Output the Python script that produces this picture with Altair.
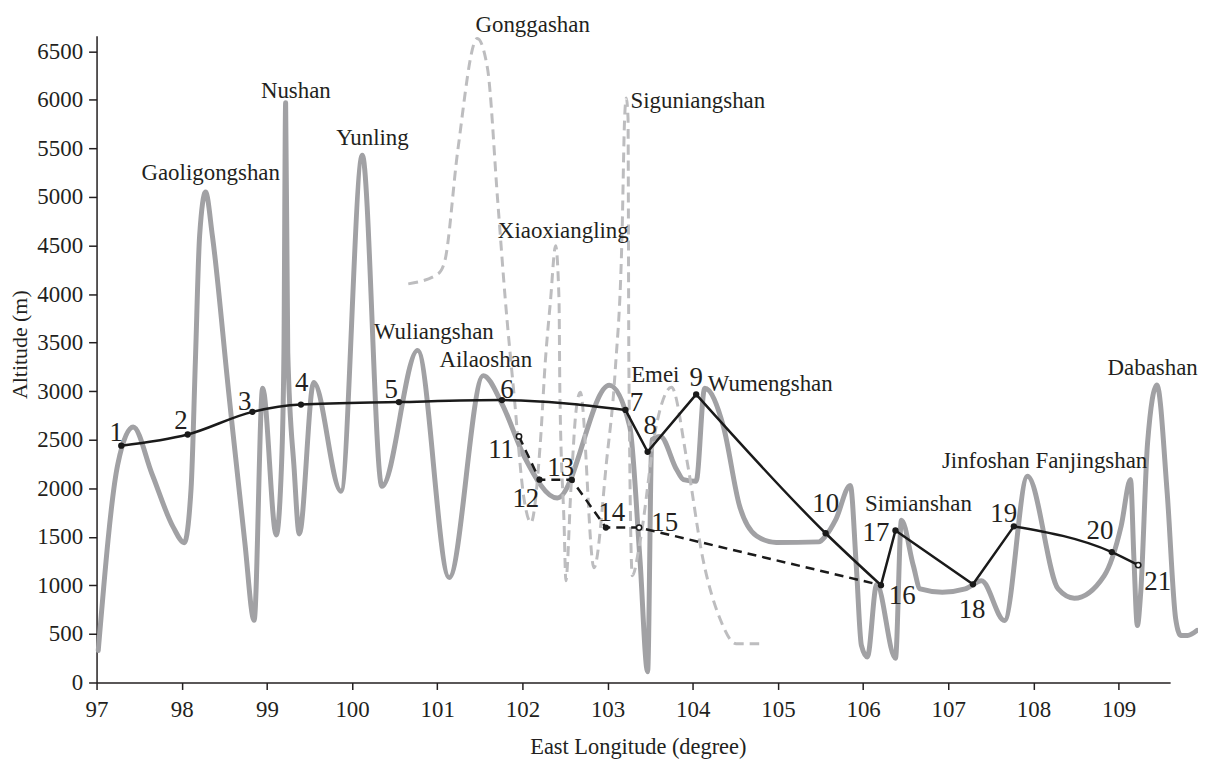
import altair as alt
import pandas as pd

# ---- main profile (solid gray) ----
prof_lon = [97.02, 97.25, 97.43, 97.65, 97.90, 98.03, 98.11, 98.16, 98.21, 98.28, 98.36, 98.55, 98.74, 98.85,
            98.95, 99.11, 99.17, 99.20, 99.22, 99.245, 99.32, 99.38, 99.55, 99.87, 100.12, 100.35, 100.77,
            101.14, 101.54, 101.76, 102.02, 102.41, 103.02, 103.26, 103.38, 103.47, 103.52, 103.62, 103.81,
            103.89, 104.04, 104.14, 104.36, 104.55, 104.75, 104.98, 105.48, 105.56, 105.68, 105.85, 105.92,
            105.98, 106.05, 106.16, 106.38, 106.45, 106.59, 106.67, 106.93, 107.20, 107.39, 107.66, 107.93,
            108.29, 108.48, 108.83, 109.03, 109.14, 109.18, 109.22, 109.26, 109.34, 109.45, 109.57, 109.67,
            109.73, 109.81, 109.92]
prof_alt = [330, 2250, 2630, 2150, 1600, 1440, 2000, 3300, 4600, 5050, 4600, 3000, 1450, 640,
            3030, 1520, 2200, 3400, 5970, 3400, 2200, 1530, 3090, 1970, 5430, 2020, 3420,
            1080, 3160, 2870, 2330, 1900, 3060, 2636, 1270, 110, 2500, 2534, 2193,
            2090, 2073, 3030, 2636, 1817, 1509, 1442, 1448, 1509, 1680, 2030, 1202,
            382, 263, 1010, 250, 1670, 1202, 963, 929, 963, 1048, 638, 2124,
            963, 868, 1099, 1612, 2090, 1270, 587, 932, 2469, 3064, 1957, 656,
            485, 485, 536]

# ---- Sichuan branch profile (dashed light gray) ----
sich_lon = [100.66, 101.01, 101.09, 101.24, 101.47, 101.59, 101.71, 101.80, 101.90, 102.02, 102.10, 102.21,
            102.27, 102.33, 102.39, 102.43, 102.44, 102.49, 102.51, 102.57, 102.63, 102.68, 102.84, 102.99,
            103.09, 103.17, 103.20, 103.22, 103.24, 103.25, 103.29, 103.38, 103.57, 103.75, 103.93, 104.12,
            104.32, 104.51, 104.78]
sich_alt = [4105, 4208, 4344, 5471, 6632, 6325, 4959, 3934, 2982, 1885, 1646, 2465,
            3320, 3934, 4498, 3934, 2982, 1612, 1048, 2000, 2800, 2990, 1182, 2295,
            3217, 4621, 5813, 6018, 5813, 3251, 1099, 1445, 2636, 3040, 2295, 1270,
            656, 400, 400]

# ---- numbered sites ----
site_id = [str(i) for i in range(1, 22)]
site_lon = [97.29, 98.07, 98.83, 99.40, 100.55, 101.76, 103.21, 103.47, 104.04, 105.56,
            101.96, 102.20, 102.58, 102.98, 103.37, 106.21, 106.38, 107.29, 107.77, 108.92, 109.23]
site_alt = [2439, 2554, 2787, 2862, 2888, 2908, 2807, 2375, 2967, 1537,
            2534, 2089, 2087, 1595, 1595, 1002, 1565, 1011, 1608, 1343, 1209]
open_sites = ["11", "15", "21"]

# label anchors of the site numbers (data units)
num_lon = [97.23, 97.99, 98.74, 99.41, 100.46, 101.82, 103.34, 103.50, 104.04, 105.56,
           101.75, 102.04, 102.45, 103.05, 103.67, 106.46, 106.15, 107.28, 107.65, 108.78, 109.46]
num_alt = [2569, 2688, 2892, 3081, 3012, 3012, 2876, 2636, 3132, 1834,
           2398, 1885, 2210, 1749, 1647, 894, 1544, 741, 1732, 1560, 1032]

# mountain names
names = ["Gaoligongshan", "Nushan", "Yunling", "Gonggashan", "Siguniangshan", "Xiaoxiangling",
         "Wuliangshan", "Ailaoshan", "Emei", "Wumengshan", "Simianshan", "Jinfoshan",
         "Fanjingshan", "Dabashan"]
name_lon = [98.34, 99.34, 100.24, 102.12, 104.06, 102.48, 100.96, 101.57, 103.56, 104.91,
            106.65, 107.44, 108.68, 109.40]
name_alt = [5249, 6093, 5608, 6770, 5984, 4652, 3610, 3320, 3166, 3074,
            1834, 2278, 2278, 3235]

# black route segments (site ids)
solid_curve_a = ["1", "2", "3", "4", "5", "6", "7"]
solid_lin_b = ["7", "8", "9"]
solid_curve_c = ["9", "10", "16"]
solid_lin_d = ["16", "17", "18", "19"]
solid_curve_e = ["19", "20", "21"]
dashed_route = ["11", "12", "13", "14", "15", "16"]

# ---------------------------------------------------------------
FONT = "Liberation Serif"
INK = "#231f20"

sites = pd.DataFrame({"id": site_id, "lon": site_lon, "alt": site_alt})
site_map = sites.set_index("id")


def route(ids):
    d = site_map.loc[ids].reset_index()
    d["i"] = range(len(d))
    return d


prof = pd.DataFrame({"lon": prof_lon, "alt": prof_alt})
sich = pd.DataFrame({"lon": sich_lon, "alt": sich_alt})
nums = pd.DataFrame({"lon": num_lon, "alt": num_alt, "label": site_id})
nms = pd.DataFrame({"lon": name_lon, "alt": name_alt, "label": names})
prof["i"] = range(len(prof))
sich["i"] = range(len(sich))

xscale = alt.Scale(domain=[97, 109.605], nice=False, zero=False)
yscale = alt.Scale(domain=[0, 6660], nice=False, zero=True)

xaxis = alt.Axis(values=list(range(97, 110)), title="East Longitude (degree)", grid=False,
                 tickSize=7, labelPadding=9, labelFont=FONT, labelFontSize=23, labelColor=INK,
                 titleFont=FONT, titleFontSize=22.5, titleFontWeight="normal", titleColor=INK,
                 domainColor=INK, tickColor=INK, domainWidth=1.5, tickWidth=1.5,
                 titleX=544, titleY=71, titleBaseline="alphabetic", titleAlign="center",
                 labelFlush=False, labelOverlap=False, format="d")
yaxis = alt.Axis(values=list(range(0, 7000, 500)), title="Altitude (m)", grid=False,
                 tickSize=8, labelPadding=6, labelFont=FONT, labelFontSize=23, labelColor=INK,
                 titleFont=FONT, titleFontSize=22, titleFontWeight="normal", titleColor=INK,
                 domainColor=INK, tickColor=INK, domainWidth=1.5, tickWidth=1.5,
                 titleX=-77, titleY=310, titleAngle=270, titleAlign="center", titleBaseline="middle",
                 labelOverlap=False, format="d")

X = alt.X("lon:Q", scale=xscale, axis=xaxis)
Y = alt.Y("alt:Q", scale=yscale, axis=yaxis)
ORD = alt.Order("i:Q")

gray = alt.Chart(prof).mark_line(color="#a1a1a4", strokeWidth=5, interpolate="monotone",
                                 strokeCap="round", strokeJoin="round").encode(x=X, y=Y, order=ORD)
dash = alt.Chart(sich).mark_line(color="#bdbdbf", strokeWidth=3, interpolate="monotone",
                                 strokeDash=[10, 6]).encode(x=X, y=Y, order=ORD)

layers = [gray, dash]
for ids, interp in [(solid_curve_a, "monotone"), (solid_lin_b, "linear"), (solid_curve_c, "monotone"),
                    (solid_lin_d, "linear"), (solid_curve_e, "monotone")]:
    layers.append(alt.Chart(route(ids)).mark_line(color="#1a1a1a", strokeWidth=2.5,
                                                  interpolate=interp).encode(x=X, y=Y, order=ORD))
layers.append(alt.Chart(route(dashed_route)).mark_line(color="#1a1a1a", strokeWidth=2.5,
                                                       strokeDash=[9, 6]).encode(x=X, y=Y, order=ORD))

filled = sites[~sites["id"].isin(open_sites)]
opened = sites[sites["id"].isin(open_sites)]
layers.append(alt.Chart(filled).mark_circle(size=40, color="#1a1a1a", opacity=1).encode(x=X, y=Y))
layers.append(alt.Chart(opened).mark_circle(size=28, color="white", opacity=1, stroke="#1a1a1a",
                                            strokeWidth=1.6).encode(x=X, y=Y))

layers.append(alt.Chart(nums).mark_text(font=FONT, fontSize=27, color=INK, align="center",
                                        baseline="middle").encode(x=X, y=Y, text="label:N"))
layers.append(alt.Chart(nms).mark_text(font=FONT, fontSize=23, color=INK, align="center",
                                       baseline="middle").encode(x=X, y=Y, text="label:N"))

chart = alt.layer(*layers).properties(
    width=1079, height=650,
    background="white",
    autosize=alt.AutoSizeParams(type="none"),
    padding={"left": 89, "top": 26, "right": 28, "bottom": 76},
).configure_view(stroke=None)

chart.save("out.html", embed_options={"renderer": "svg", "actions": False})
